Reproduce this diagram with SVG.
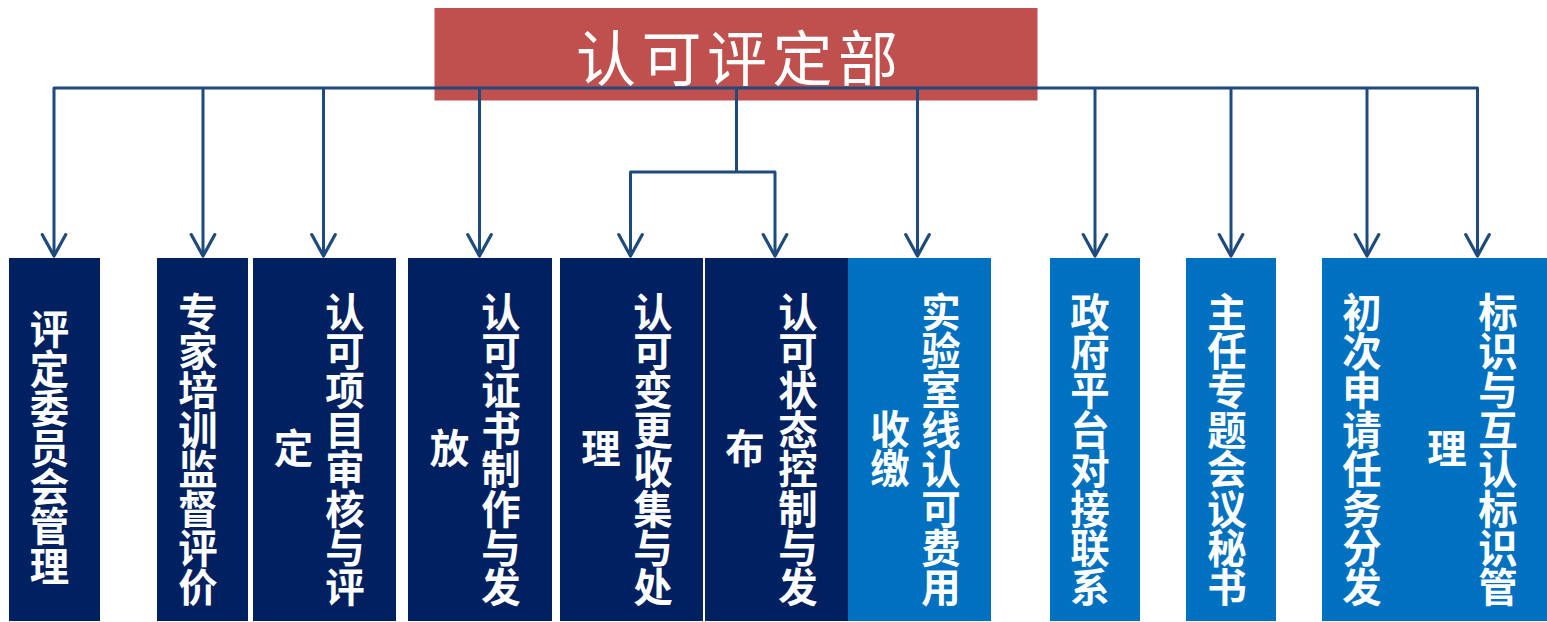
<svg xmlns="http://www.w3.org/2000/svg" width="1547" height="622" viewBox="0 0 1547 622">
<style>
.navy{fill:#002060}
.blue{fill:#0070C0}
.lbl{font-family:"Noto Sans CJK SC","Noto Sans",sans-serif;font-size:39.4px;font-weight:bold;fill:#FFFFFF;text-anchor:middle}
.title{font-family:"Noto Sans CJK SC","Noto Sans",sans-serif;font-size:60px;fill:#FFFFFF;letter-spacing:5.5px}
.conn{fill:none;stroke:#1F4A7E;stroke-width:3;stroke-linejoin:round}
</style>
<defs>
<marker id="arr" markerUnits="userSpaceOnUse" markerWidth="30" markerHeight="30" viewBox="-24 -14 28 28" refX="0" refY="0" orient="auto">
<path d="M-20,-11 L0,0 L-20,11" fill="none" stroke="#1F4A7E" stroke-width="3" stroke-linejoin="round" stroke-linecap="round"/>
</marker>
</defs>
<rect width="1547" height="622" fill="#FFFFFF"/>
<g id="root">
<rect x="434.5" y="8" width="603" height="92.5" fill="#C0504D"/>
<text class="title" x="576" y="81">认可评定部</text>
</g>
<g id="connectors">
<path class="conn" d="M54,256 V88 H1477.5 V256"/>
<path class="conn" d="M203,88 V256" marker-end="url(#arr)"/>
<path class="conn" d="M323.5,88 V256" marker-end="url(#arr)"/>
<path class="conn" d="M479.5,88 V256" marker-end="url(#arr)"/>
<path class="conn" d="M736.5,88 V172"/>
<path class="conn" d="M630.5,256 V172 H775 V256"/>
<path class="conn" d="M917.5,88 V256" marker-end="url(#arr)"/>
<path class="conn" d="M1095,88 V256" marker-end="url(#arr)"/>
<path class="conn" d="M1231,88 V256" marker-end="url(#arr)"/>
<path class="conn" d="M1367,88 V256" marker-end="url(#arr)"/>
<path class="conn" d="M54,250 V256" marker-end="url(#arr)"/>
<path class="conn" d="M1477.5,250 V256" marker-end="url(#arr)"/>
<path class="conn" d="M630.5,250 V256" marker-end="url(#arr)"/>
<path class="conn" d="M775,250 V256" marker-end="url(#arr)"/>
</g>
<g id="n1">
<rect class="navy" x="9" y="258" width="91" height="363"/>
<text class="lbl"><tspan x="49.5" y="344.3">评</tspan><tspan x="49.5" y="383.7">定</tspan><tspan x="49.5" y="423.1">委</tspan><tspan x="49.5" y="462.5">员</tspan><tspan x="49.5" y="501.9">会</tspan><tspan x="49.5" y="541.3">管</tspan><tspan x="49.5" y="580.7">理</tspan></text>
</g>
<g id="n2">
<rect class="navy" x="157" y="258" width="91" height="363"/>
<text class="lbl"><tspan x="198" y="326.6">专</tspan><tspan x="198" y="366">家</tspan><tspan x="198" y="405.4">培</tspan><tspan x="198" y="444.8">训</tspan><tspan x="198" y="484.2">监</tspan><tspan x="198" y="523.6">督</tspan><tspan x="198" y="563">评</tspan><tspan x="198" y="602.4">价</tspan></text>
</g>
<g id="n3">
<rect class="navy" x="253" y="258" width="143" height="363"/>
<text class="lbl"><tspan x="345" y="326.6">认</tspan><tspan x="345" y="366">可</tspan><tspan x="345" y="405.4">项</tspan><tspan x="345" y="444.8">目</tspan><tspan x="345" y="484.2">审</tspan><tspan x="345" y="523.6">核</tspan><tspan x="345" y="563">与</tspan><tspan x="345" y="602.4">评</tspan><tspan x="293.5" y="463">定</tspan></text>
</g>
<g id="n4">
<rect class="navy" x="408" y="258" width="144" height="363"/>
<text class="lbl"><tspan x="501" y="326.6">认</tspan><tspan x="501" y="366">可</tspan><tspan x="501" y="405.4">证</tspan><tspan x="501" y="444.8">书</tspan><tspan x="501" y="484.2">制</tspan><tspan x="501" y="523.6">作</tspan><tspan x="501" y="563">与</tspan><tspan x="501" y="602.4">发</tspan><tspan x="449.5" y="463">放</tspan></text>
</g>
<g id="n5">
<rect class="navy" x="560" y="258" width="143" height="363"/>
<text class="lbl"><tspan x="653" y="326.6">认</tspan><tspan x="653" y="366">可</tspan><tspan x="653" y="405.4">变</tspan><tspan x="653" y="444.8">更</tspan><tspan x="653" y="484.2">收</tspan><tspan x="653" y="523.6">集</tspan><tspan x="653" y="563">与</tspan><tspan x="653" y="602.4">处</tspan><tspan x="601" y="463">理</tspan></text>
</g>
<g id="n6">
<rect class="navy" x="705" y="258" width="143" height="363"/>
<text class="lbl"><tspan x="798" y="326.6">认</tspan><tspan x="798" y="366">可</tspan><tspan x="798" y="405.4">状</tspan><tspan x="798" y="444.8">态</tspan><tspan x="798" y="484.2">控</tspan><tspan x="798" y="523.6">制</tspan><tspan x="798" y="563">与</tspan><tspan x="798" y="602.4">发</tspan><tspan x="745" y="463">布</tspan></text>
</g>
<g id="n7">
<rect class="blue" x="848" y="258" width="143" height="363"/>
<text class="lbl"><tspan x="941" y="326.6">实</tspan><tspan x="941" y="366">验</tspan><tspan x="941" y="405.4">室</tspan><tspan x="941" y="444.8">线</tspan><tspan x="941" y="484.2">认</tspan><tspan x="941" y="523.6">可</tspan><tspan x="941" y="563">费</tspan><tspan x="941" y="602.4">用</tspan><tspan x="890" y="443.8">收</tspan><tspan x="890" y="483.2">缴</tspan></text>
</g>
<g id="n8">
<rect class="blue" x="1050" y="258" width="90" height="363"/>
<text class="lbl"><tspan x="1090" y="326.6">政</tspan><tspan x="1090" y="366">府</tspan><tspan x="1090" y="405.4">平</tspan><tspan x="1090" y="444.8">台</tspan><tspan x="1090" y="484.2">对</tspan><tspan x="1090" y="523.6">接</tspan><tspan x="1090" y="563">联</tspan><tspan x="1090" y="602.4">系</tspan></text>
</g>
<g id="n9">
<rect class="blue" x="1186" y="258" width="90" height="363"/>
<text class="lbl"><tspan x="1227" y="326.6">主</tspan><tspan x="1227" y="366">任</tspan><tspan x="1227" y="405.4">专</tspan><tspan x="1227" y="444.8">题</tspan><tspan x="1227" y="484.2">会</tspan><tspan x="1227" y="523.6">议</tspan><tspan x="1227" y="563">秘</tspan><tspan x="1227" y="602.4">书</tspan></text>
</g>
<g id="n10">
<rect class="blue" x="1322" y="258" width="90" height="363"/>
<text class="lbl"><tspan x="1362" y="326.6">初</tspan><tspan x="1362" y="366">次</tspan><tspan x="1362" y="405.4">申</tspan><tspan x="1362" y="444.8">请</tspan><tspan x="1362" y="484.2">任</tspan><tspan x="1362" y="523.6">务</tspan><tspan x="1362" y="563">分</tspan><tspan x="1362" y="602.4">发</tspan></text>
</g>
<g id="n11">
<rect class="blue" x="1405" y="258" width="142" height="363"/>
<text class="lbl"><tspan x="1498" y="326.6">标</tspan><tspan x="1498" y="366">识</tspan><tspan x="1498" y="405.4">与</tspan><tspan x="1498" y="444.8">互</tspan><tspan x="1498" y="484.2">认</tspan><tspan x="1498" y="523.6">标</tspan><tspan x="1498" y="563">识</tspan><tspan x="1498" y="602.4">管</tspan><tspan x="1447" y="463">理</tspan></text>
</g>
</svg>
